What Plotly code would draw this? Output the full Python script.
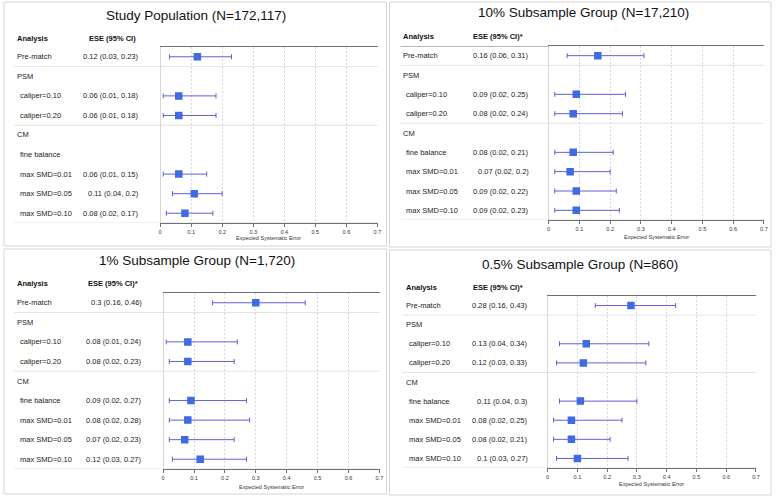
import plotly.graph_objects as go

W, H = 778, 498

# ---------------- data ----------------
rows = ["Pre-match", "PSM", "caliper=0.10", "caliper=0.20", "CM",
        "fine balance", "max SMD=0.01", "max SMD=0.05", "max SMD=0.10"]
row_indent = [0, 0, 1, 1, 0, 1, 1, 1, 1]

titles = ["Study Population (N=172,117)", "10% Subsample Group (N=17,210)",
          "1% Subsample Group (N=1,720)", "0.5% Subsample Group (N=860)"]
ci_headers = ["ESE (95% CI)", "ESE (95% CI)*", "ESE (95% CI)*", "ESE (95% CI)*"]

study_est = [0.12, None, 0.06, 0.06, None, None, 0.06, 0.11, 0.08]
study_lo = [0.03, None, 0.01, 0.01, None, None, 0.01, 0.04, 0.02]
study_hi = [0.23, None, 0.18, 0.18, None, None, 0.15, 0.20, 0.17]

sub10_est = [0.16, None, 0.09, 0.08, None, 0.08, 0.07, 0.09, 0.09]
sub10_lo = [0.06, None, 0.02, 0.02, None, 0.02, 0.02, 0.02, 0.02]
sub10_hi = [0.31, None, 0.25, 0.24, None, 0.21, 0.20, 0.22, 0.23]

sub1_est = [0.30, None, 0.08, 0.08, None, 0.09, 0.08, 0.07, 0.12]
sub1_lo = [0.16, None, 0.01, 0.02, None, 0.02, 0.02, 0.02, 0.03]
sub1_hi = [0.46, None, 0.24, 0.23, None, 0.27, 0.28, 0.23, 0.27]

sub05_est = [0.28, None, 0.13, 0.12, None, 0.11, 0.08, 0.08, 0.10]
sub05_lo = [0.16, None, 0.04, 0.03, None, 0.04, 0.02, 0.02, 0.03]
sub05_hi = [0.43, None, 0.34, 0.33, None, 0.30, 0.25, 0.21, 0.27]

x_ticks = [0, 0.1, 0.2, 0.3, 0.4, 0.5, 0.6, 0.7]
x_tick_labels = ["0", "0.1", "0.2", "0.3", "0.4", "0.5", "0.6", "0.7"]
x_title = "Expected Systematic Error"

series = [(study_est, study_lo, study_hi), (sub10_est, sub10_lo, sub10_hi),
          (sub1_est, sub1_lo, sub1_hi), (sub05_est, sub05_lo, sub05_hi)]

# ---------------- layout geometry (pixels) ----------------
P = [
    dict(px0=160, px1=379, top=47, bot=223, lab=14, ese_r=141, ese_h=87, tx=196, ty=15, hy=38,
         sep_x0=13, head_full=False, ay=238, box=(3, 2, 388, 246)),
    dict(px0=551, px1=768, top=46, bot=220, lab=403, ese_r=533, ese_h=473, tx=586, ty=13, hy=36,
         sep_x0=402, head_full=True, ay=237, box=(391, 2, 775, 247)),
    dict(px0=163, px1=381, top=293, bot=469, lab=14, ese_r=144, ese_h=86, tx=197, ty=260, hy=283,
         sep_x0=13, head_full=False, ay=487, box=(3, 249, 388, 494)),
    dict(px0=550, px1=760, top=296, bot=468, lab=406, ese_r=532, ese_h=473, tx=583, ty=264, hy=287,
         sep_x0=404, head_full=False, ay=484, box=(391, 250, 775, 495)),
]


def fx(p):
    return p / W


def fy(p):
    return 1 - p / H


FONT = "Liberation Sans, Arial, sans-serif"
PT_COLOR = "#4169E1"
CI_COLOR = "#6060d4"
AXIS_COLOR = "#707070"

fig = go.Figure()
annotations = []
shapes = []
layout_axes = {}

for i, (g, (est, lo, hi)) in enumerate(zip(P, series)):
    n = "" if i == 0 else str(i + 1)
    xa, ya = "x" + n, "y" + n
    idx = [k for k, v in enumerate(est) if v is not None]
    fig.add_trace(go.Scatter(
        x=[est[k] for k in idx], y=[k for k in idx],
        xaxis=xa, yaxis=ya, mode="markers",
        marker=dict(symbol="square", size=7.5, color=PT_COLOR),
        error_x=dict(type="data", symmetric=False,
                     array=[hi[k] - est[k] for k in idx],
                     arrayminus=[est[k] - lo[k] for k in idx],
                     color=CI_COLOR, thickness=1, width=2.5),
        showlegend=False, hoverinfo="skip"))

    layout_axes["xaxis" + n] = dict(
        domain=[fx(g["px0"]), fx(g["px1"])], anchor=ya,
        range=[-0.0005, 0.7005], tickvals=x_ticks, ticktext=x_tick_labels,
        tickfont=dict(size=5.5, color="#333", family=FONT),
        ticks="outside", ticklen=3, tickcolor=AXIS_COLOR,
        showline=True, linecolor=AXIS_COLOR, linewidth=1, mirror=True,
        showgrid=True, gridcolor="#d4d4f6", griddash="2px,2px", gridwidth=1,
        zeroline=True, zerolinecolor="#d6d6d6", zerolinewidth=1, fixedrange=True)
    layout_axes["yaxis" + n] = dict(
        domain=[fy(g["bot"]), fy(g["top"])], anchor=xa,
        range=[8.5, -0.5], showgrid=False, zeroline=False,
        showticklabels=False, showline=False, ticks="", fixedrange=True)

    # title
    annotations.append(dict(text=titles[i], x=fx(g["tx"]), y=fy(g["ty"]), xref="paper", yref="paper",
                            xanchor="center", yanchor="middle", showarrow=False,
                            font=dict(size=13.5, color="#111", family=FONT)))
    # headers
    annotations.append(dict(text="<b>Analysis</b>", x=fx(g["lab"]), y=fy(g["hy"]), xref="paper", yref="paper",
                            xanchor="left", yanchor="middle", showarrow=False,
                            font=dict(size=7.5, color="#111", family=FONT)))
    annotations.append(dict(text="<b>" + ci_headers[i] + "</b>", x=fx(g["ese_h"]), y=fy(g["hy"]),
                            xref="paper", yref="paper", xanchor="left", yanchor="middle", showarrow=False,
                            font=dict(size=7.5, color="#111", family=FONT)))
    # x-axis title
    annotations.append(dict(text=x_title, x=fx((g["px0"] + g["px1"]) / 2), y=fy(g["ay"]),
                            xref="paper", yref="paper", xanchor="center", yanchor="middle", showarrow=False,
                            font=dict(size=5.5, color="#333", family=FONT)))
    # row labels and ESE text
    for k, r in enumerate(rows):
        annotations.append(dict(text=r, x=fx(g["lab"] + 3 * row_indent[k]), y=k, xref="paper", yref=ya,
                                xanchor="left", yanchor="middle", showarrow=False,
                                font=dict(size=7.5, color="#222", family=FONT)))
        if est[k] is not None:
            txt = f"{est[k]:g} ({lo[k]:g}, {hi[k]:g})"
            annotations.append(dict(text=txt, x=fx(g["ese_r"]), y=k, xref="paper", yref=ya,
                                    xanchor="right", yanchor="middle", showarrow=False,
                                    font=dict(size=7.5, color="#222", family=FONT)))
    # separators
    for yy in (0.5, 3.5, 8.5):
        shapes.append(dict(type="line", xref="paper", yref=ya, x0=fx(g["sep_x0"]), x1=fx(g["px1"]),
                           y0=yy, y1=yy, line=dict(color="#e3e3e3", width=1), layer="below"))
    if g["head_full"]:
        shapes.append(dict(type="line", xref="paper", yref=ya, x0=fx(g["sep_x0"]), x1=fx(g["px0"]),
                           y0=-0.5, y1=-0.5, line=dict(color=AXIS_COLOR, width=1)))
    # panel border
    bx0, by0, bx1, by1 = g["box"]
    shapes.append(dict(type="rect", xref="paper", yref="paper", x0=fx(bx0), x1=fx(bx1),
                       y0=fy(by1), y1=fy(by0), line=dict(color="#d4d4d4", width=1), layer="below"))

fig.update_layout(
    width=W, height=H, autosize=False,
    margin=dict(l=0, r=0, t=0, b=0),
    paper_bgcolor="white", plot_bgcolor="white",
    font=dict(family=FONT),
    annotations=annotations, shapes=shapes,
    **layout_axes)

fig.write_html("out.html", config={"displayModeBar": False},
               post_script="document.body.style.margin='0';")
